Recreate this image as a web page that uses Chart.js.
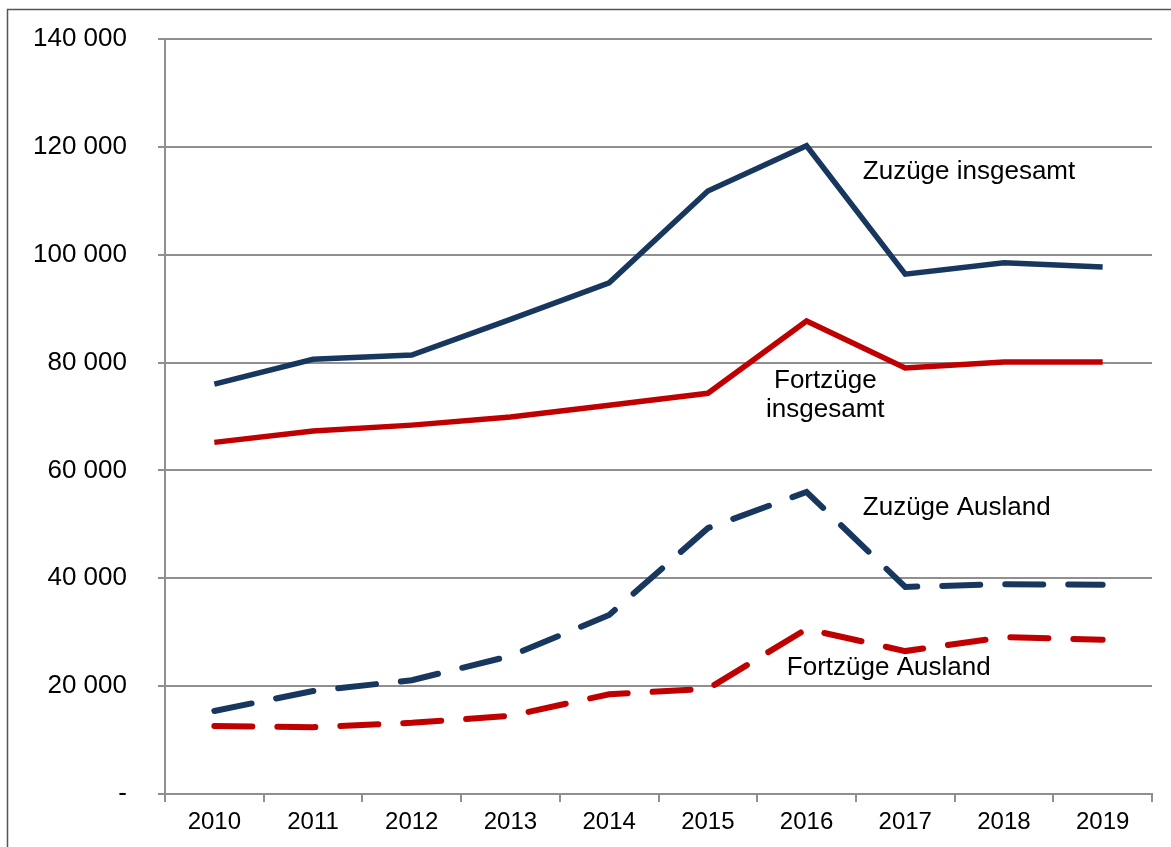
<!DOCTYPE html>
<html>
<head>
<meta charset="utf-8">
<script src="https://cdn.jsdelivr.net/npm/chart.js@4"></script>
<style>
  html, body { margin: 0; padding: 0; background: #fff; }
  #wrap { width: 1171px; height: 847px; }
</style>
</head>
<body>
<div id="wrap"><canvas id="chart" width="1171" height="847"></canvas></div>
<script>
// Daten
const jahre = ["2010", "2011", "2012", "2013", "2014", "2015", "2016", "2017", "2018", "2019"];
const zuzuegeInsgesamt = [76000, 80600, 81400, 88000, 94800, 111800, 120200, 96400, 98500, 97700];
const fortzuegeInsgesamt = [65200, 67300, 68400, 69900, 72100, 74300, 87700, 79000, 80100, 80100];
const zuzuegeAusland = [15400, 19100, 21100, 25600, 33200, 49300, 56000, 38400, 38900, 38800];
const fortzuegeAusland = [12600, 12400, 13200, 14500, 18500, 19500, 30600, 26500, 29100, 28600];
const yTicks = [0, 20000, 40000, 60000, 80000, 100000, 120000, 140000];

const blau = "#17375E";
const rot = "#C00000";
const schrift = "'Liberation Sans', Arial, sans-serif";

// Beschriftungen direkt im Diagramm: [Text-Zeilen, Kategorie-Index, Wert, Ausrichtung]
const beschriftungen = [
  [["Zuzüge insgesamt"], 6.57, 115300, "left"],
  [["Fortzüge", "insgesamt"], 6.19, 76600, "center"],
  [["Zuzüge Ausland"], 6.57, 53000, "left"],
  [["Fortzüge Ausland"], 5.8, 23400, "left"],
];

const beschriftungPlugin = {
  id: "beschriftungen",
  beforeDraw(chart) {
    const ctx = chart.ctx;
    ctx.save();
    ctx.strokeStyle = "#555";
    ctx.lineWidth = 1.5;
    ctx.strokeRect(7.5, 9.5, 3000, 3000);
    ctx.restore();
  },
  afterDatasetsDraw(chart) {
    const ctx = chart.ctx;
    const x = chart.scales.x;
    const y = chart.scales.y;
    ctx.save();
    ctx.font = "26px " + schrift;
    ctx.fillStyle = "#000";
    ctx.textBaseline = "middle";
    beschriftungen.forEach(([zeilen, idx, wert, align]) => {
      const px = x.getPixelForValue(0) + idx * (x.getPixelForValue(1) - x.getPixelForValue(0));
      const py = y.getPixelForValue(wert);
      ctx.textAlign = align;
      zeilen.forEach((z, i) => ctx.fillText(z, px, py + i * 29));
    });
    ctx.restore();
  },
};

function linie(label, daten, farbe, gestrichelt) {
  return {
    label: label,
    data: daten,
    borderColor: farbe,
    backgroundColor: farbe,
    borderWidth: gestrichelt ? 6 : 5.5,
    borderDash: gestrichelt ? [38, 25] : [],
    borderCapStyle: gestrichelt ? "round" : "butt",
    borderJoinStyle: "miter",
    pointRadius: 0,
    tension: 0,
    fill: false,
  };
}

new Chart(document.getElementById("chart"), {
  type: "line",
  data: {
    labels: jahre,
    datasets: [
      linie("Zuzüge insgesamt", zuzuegeInsgesamt, blau, false),
      linie("Fortzüge insgesamt", fortzuegeInsgesamt, rot, false),
      linie("Zuzüge Ausland", zuzuegeAusland, blau, true),
      linie("Fortzüge Ausland", fortzuegeAusland, rot, true),
    ],
  },
  options: {
    responsive: false,
    animation: false,
    layout: { padding: { top: 39, right: 19, left: 0, bottom: 0 } },
    plugins: { legend: { display: false }, tooltip: { enabled: false } },
    scales: {
      x: {
        offset: true,
        grid: { offset: true, drawOnChartArea: false, tickLength: 8, color: "#8f8f8f", lineWidth: 2 },
        border: { color: "#8f8f8f", width: 2 },
        ticks: { color: "#000", font: { family: schrift, size: 24 }, padding: 6, maxRotation: 0 },
        afterFit(scale) { scale.height = 53; },
      },
      y: {
        min: 0,
        max: 140000,
        afterBuildTicks(scale) { scale.ticks = yTicks.map((v) => ({ value: v })); },
        grid: { color: "#8f8f8f", lineWidth: 2, tickLength: 7 },
        border: { color: "#8f8f8f", width: 2 },
        ticks: {
          color: "#000",
          font: { family: schrift, size: 26 },
          padding: 31,
          callback: (v) => (v === 0 ? "-" : String(v).replace(/\B(?=(\d{3})+(?!\d))/g, " ")),
        },
        // feste Breite, kein Zusatzabstand oben/unten
        afterFit(scale) { scale.width = 165; scale.paddingTop = 0; scale.paddingBottom = 0; },
      },
    },
  },
  plugins: [beschriftungPlugin],
});
</script>
</body>
</html>
